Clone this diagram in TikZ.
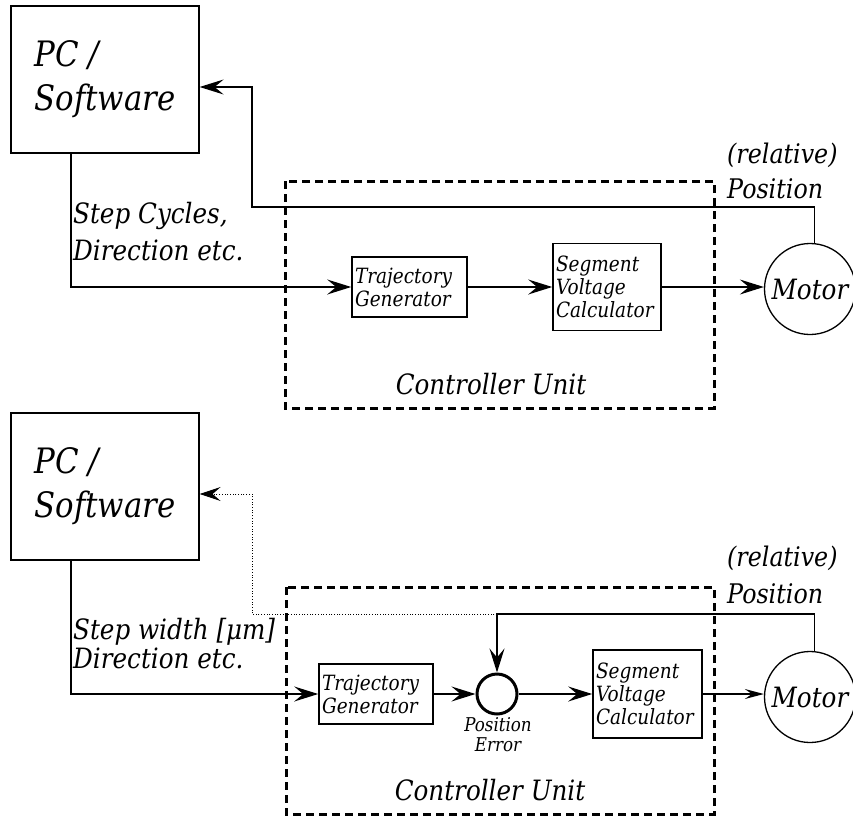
\documentclass[tikz,border=0pt]{standalone}
\usepackage{fontspec}
\setmainfont{DejaVu Serif}[FakeStretch=0.88]
\usepackage{tikz}
\usetikzlibrary{arrows.meta, calc}
\newcommand{\fsz}[2]{\fontsize{#1}{#2}\selectfont\itshape}

\begin{document}
\begin{tikzpicture}[x=1pt, y=-1pt,
  ln/.style={line width=1.3pt},
  sig/.style={ln, -{Stealth[length=24pt, width=15pt, inset=9pt]}},
  sigs/.style={ln, -{Stealth[length=19pt, width=10pt, inset=7pt]}},
  fbdot/.style={line width=1pt, dash pattern=on 1pt off 1.7pt, -{Stealth[length=21pt, width=14pt, inset=8pt]}},
  pc/.style={draw, line width=1.2pt, minimum width=188pt, minimum height=147pt, align=left, font=\fsz{35}{44}},
  blk/.style={draw, line width=1.6pt, inner xsep=3pt, inner ysep=0pt, align=left, font=\fsz{21}{23}},
  mot/.style={draw, circle, line width=1.3pt, minimum size=91pt, inner sep=0pt, font=\fsz{28}{30}},
  sum/.style={draw, circle, line width=3pt, minimum size=40pt, inner sep=0pt},
  ctrl/.style={line width=3pt, dash pattern=on 8pt off 5pt},
  lbl/.style={inner sep=0pt, align=left}]
\useasboundingbox (0,0) rectangle (853,816);

% open loop
\node[pc] (pc1) at (105,79.5) {PC /\\Software};
\node[blk, text width=109pt, minimum height=60pt] (tg1) at (409.5,287) {Trajectory\\Generator};
\node[blk, text width=102pt, minimum height=87pt] (sv1) at (607,287) {Segment\\Voltage\\Calculator};
\node[mot] (m1) at (810,289) {Motor};
\coordinate (k1) at (252,207);
\draw[sig] ([xshift=-34pt]pc1.south) |- (tg1.west);
\draw[sig] (tg1.east) -- (sv1.west);
\draw[sig] (sv1.east) -- (sv1.east -| m1.west);
\draw[sig] (m1.84) |- (k1) |- ([yshift=-7.5pt]pc1.east);
\draw[ctrl] (285,181) rectangle (714,408);
\node[lbl, font=\fsz{28}{30}, anchor=base] (cu1) at (491,394) {Controller Unit};
\node[lbl, font=\fsz{28}{37}, anchor=base west] (in1) at (73,260) {Step Cycles,\\Direction etc.};
\node[lbl, font=\fsz{27}{35}, anchor=base west] (rp1) at (727,198) {(relative)\\Position};

% closed loop
\node[pc] (pc2) at (105,486.5) {PC /\\Software};
\node[blk, text width=108pt, minimum height=60pt] (tg2) at (376,694) {Trajectory\\Generator};
\node[sum] (s2) at (497,694) {};
\node[lbl, font=\fsz{19}{20}, align=center, anchor=base] (pe2) at (498,751) {Position\\Error};
\node[blk, text width=103pt, minimum height=88pt] (sv2) at (647.5,694) {Segment\\Voltage\\Calculator};
\node[mot] (m2) at (810,697) {Motor};
\coordinate (k2) at (497,614);
\coordinate (k3) at (252,614);
\draw[sig] ([xshift=-34pt]pc2.south) |- (tg2.west);
\draw[sig] (tg2.east) -- (s2.west);
\draw[sig] (s2.east) -- (sv2.west);
\draw[sigs] (sv2.east) -- (sv2.east -| m2.west);
\draw[sig] (m2.84) |- (k2) -- (s2.north);
\draw[fbdot] (k2) -- (k3) |- ([yshift=-7.5pt]pc2.east);
\draw[ctrl] (286,587) rectangle (714,814);
\node[lbl, font=\fsz{28}{30}, anchor=base] (cu2) at (490,800) {Controller Unit};
\node[lbl, font=\fsz{28}{29}, anchor=base west] (in2) at (73,668) {Step width [μm]\\Direction etc.};
\node[lbl, font=\fsz{27}{37}, anchor=base west] (rp2) at (727,603) {(relative)\\Position};
\end{tikzpicture}
\end{document}
